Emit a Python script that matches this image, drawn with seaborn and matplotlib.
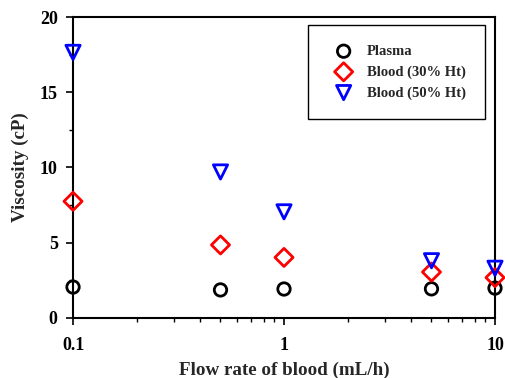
import numpy as np
import seaborn as sns
import matplotlib.pyplot as plt
from matplotlib.ticker import MultipleLocator, LogLocator, FixedLocator

flow = [0.1, 0.5, 1, 5, 10]
plasma = [2.05, 1.86, 1.92, 1.93, 1.98]
blood30 = [7.75, 4.85, 4.02, 3.05, 2.68]
blood50 = [17.65, 9.7, 7.05, 3.8, 3.3]

labels = ['Plasma', 'Blood (30% Ht)', 'Blood (50% Ht)']
colors = ['black', 'red', 'blue']
markers = ['o', 'D', 'v']
sizes = [80, 85, 105]

sns.set_style("ticks")
plt.rcParams['font.family'] = ['Liberation Serif', 'DejaVu Serif']
plt.rcParams['font.weight'] = 'bold'

fig = plt.figure(figsize=(5.05, 3.78), dpi=100)
ax = fig.add_axes([0.1446, 0.159, 0.8356, 0.796])

for vals, lab, c, m, s in zip([plasma, blood30, blood50], labels, colors, markers, sizes):
    sns.scatterplot(x=flow, y=vals, ax=ax, marker=m, s=s, color=c,
                    facecolor='none', edgecolor=c, linewidth=2, label=lab,
                    zorder=3, clip_on=False)

ax.set_xscale('log')
ax.set_xlim(0.1, 10)
ax.set_ylim(0, 20)
ax.xaxis.set_major_locator(FixedLocator([0.1, 1, 10]))
ax.xaxis.set_minor_locator(LogLocator(base=10, subs=np.arange(2, 10)))
ax.set_xticklabels(['0.1', '1', '10'])
ax.yaxis.set_major_locator(MultipleLocator(5))
ax.yaxis.set_minor_locator(MultipleLocator(2.5))

for sp in ax.spines.values():
    sp.set_linewidth(1.5)
    sp.set_color('black')
ax.tick_params(which='major', direction='out', length=5, width=1.2, labelsize=13, colors='black')
ax.tick_params(axis='x', which='major', pad=9)
ax.tick_params(axis='y', which='major', pad=6)
ax.tick_params(which='minor', direction='out', length=3, width=1.0, colors='black')

ax.set_xlabel('Flow rate of blood (mL/h)', fontsize=13.7, fontweight='bold', labelpad=5)
ax.set_ylabel('Viscosity (cP)', fontsize=13.7, fontweight='bold', labelpad=8)

leg = ax.legend(loc='upper right', bbox_to_anchor=(0.977, 0.973), fontsize=10.5,
                frameon=True, fancybox=False, edgecolor='black', framealpha=1,
                borderpad=1.35, handlelength=2.15, handletextpad=0.5,
                labelspacing=0.5, borderaxespad=0)
leg.get_frame().set_linewidth(1.0)
for t in leg.get_texts():
    t.set_fontweight('bold')

fig.savefig('out.png', dpi=100)
